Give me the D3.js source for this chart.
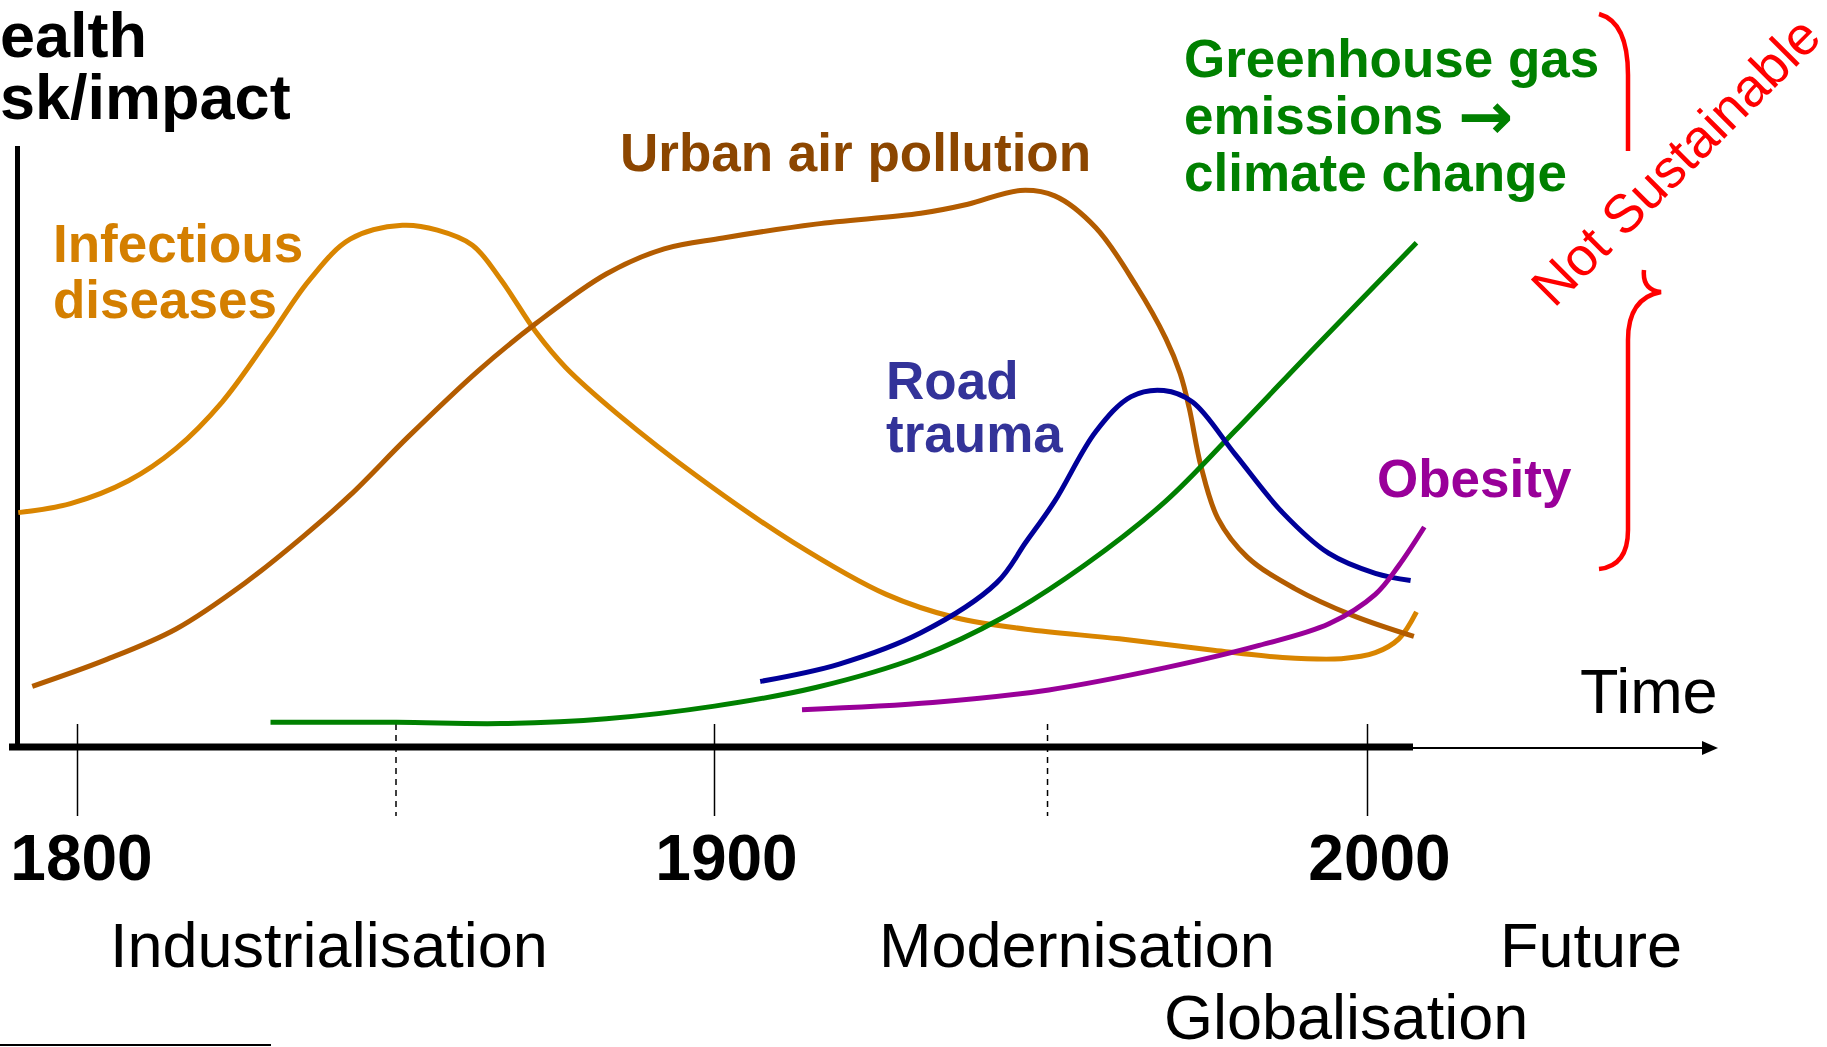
<!DOCTYPE html>
<html>
<head>
<meta charset="utf-8">
<script src="https://cdn.jsdelivr.net/npm/d3@7"></script>
<style>
html,body{margin:0;padding:0;background:#fff;overflow:hidden;}
svg{display:block;}
text{font-family:"Liberation Sans",Arial,Helvetica,sans-serif;}
</style>
</head>
<body>
<svg id="chart" width="1827" height="1047"></svg>
<script>
// ---- data (year, relative health risk/impact 0-100) ----
const infectiousYears = [1790.7,1798.9,1808,1815.4,1822.7,1830,1836.4,1842.8,1851,1856.5,1862,1866.5,1872,1876.6,1884.8,1897.6,1912,1926.3,1937,1947.7,1962,1976.4,1987,1996,2001.2,2004.8,2007.5];
const infectiousValues = [39,40.5,44.3,49.6,57.4,68,77.7,84.5,86.8,86,83.5,77.7,69,63.2,55.4,44.8,34.1,25.4,21.5,19.6,18,16.1,14.9,14.7,15.7,18,22.5];

const urbanYears = [1792.9,1804.4,1815.4,1826.3,1835.5,1842.8,1851.9,1862.9,1872,1883,1892.1,1901.3,1915.5,1931.6,1938.8,1946.8,1952.1,1958.4,1964.6,1969.1,1971.3,1972.7,1974.5,1977.1,1981.6,1988.8,1997.7,2007.1];
const urbanValues = [10.1,14.5,19.6,27.3,35.1,41.9,51.6,62.6,70.5,78.7,82.9,84.7,87,88.8,90.3,92.6,91.7,86.4,76.7,68,62.2,56.4,46.7,38,31.6,26.4,21.9,18.4];

const ghgYears = [1830.3,1850.1,1866.5,1883,1900,1915.5,1931.6,1944.1,1956.6,1969.1,1979.8,1992.3,2007.5];
const ghgValues = [4.1,4.1,3.9,4.7,6.8,9.9,15.1,21.5,30.2,40.9,52.7,66.9,83.9];

const roadYears = [1907,1919.1,1931.6,1943.2,1947.7,1952.1,1958.4,1963.8,1968.8,1973.2,1979.8,1987,1994.1,2001.2,2006.6];
const roadValues = [10.9,13.8,19,27.3,34.1,40.9,52.5,58.3,59.3,57.4,48.6,39,32.2,28.9,27.7];

const obesityYears = [1913.4,1933.4,1951.2,1969.1,1983.4,1994.1,2001.2,2004.8,2008.7];
const obesityValues = [6.2,7.4,9.5,13.2,16.9,20.5,25.4,30.2,36.6];

const tickYears = [1800,1900,2000];
const tickLabels = ["1800","1900","2000"];
const dashedYears = [1850,1951];

const seriesNames = ["Infectious diseases","Urban air pollution","Greenhouse gas emissions → climate change","Road trauma","Obesity"];

// ---- layout ----
const svg = d3.select("#chart");
const x = d3.scaleLinear().domain([1800,1900,2000]).range([77.5,714.5,1367.5]);
const y = d3.scaleLinear().domain([0,100]).range([747,146]);

const zip = (xs, vs) => xs.map((d,i)=>({year:d, value:vs[i]}));
const series = [
  {name:seriesNames[0], data:zip(infectiousYears,infectiousValues), color:"#D98500"},
  {name:seriesNames[1], data:zip(urbanYears,urbanValues), color:"#B35C00"},
  {name:seriesNames[2], data:zip(ghgYears,ghgValues), color:"#008000"},
  {name:seriesNames[3], data:zip(roadYears,roadValues), color:"#000099"},
  {name:seriesNames[4], data:zip(obesityYears,obesityValues), color:"#990099"}
];

// axes
svg.append("line").attr("x1",17.5).attr("x2",17.5).attr("y1",146).attr("y2",750)
  .attr("stroke","#000").attr("stroke-width",5);
svg.append("line").attr("x1",9).attr("x2",1413).attr("y1",747).attr("y2",747)
  .attr("stroke","#000").attr("stroke-width",7);
svg.append("line").attr("x1",1410).attr("x2",1706).attr("y1",748).attr("y2",748)
  .attr("stroke","#000").attr("stroke-width",2);
svg.append("path").attr("d","M1718,748 L1702,741 L1702,755 Z").attr("fill","#000");

// ticks
svg.selectAll("line.tick").data(tickYears).enter().append("line").attr("class","tick")
  .attr("x1",d=>x(d)).attr("x2",d=>x(d)).attr("y1",724).attr("y2",816)
  .attr("stroke","#000").attr("stroke-width",1.5);
svg.selectAll("line.dtick").data(dashedYears).enter().append("line").attr("class","dtick")
  .attr("x1",d=>x(d)).attr("x2",d=>x(d)).attr("y1",724).attr("y2",816)
  .attr("stroke","#000").attr("stroke-width",1.5).attr("stroke-dasharray","6,5");
svg.selectAll("text.tlabel").data(tickYears).enter().append("text").attr("class","tlabel")
  .attr("x",(d,i)=>x(d)+(i===0?4:12)).attr("y",880).attr("text-anchor","middle")
  .attr("font-size",64).attr("font-weight","bold").text((d,i)=>tickLabels[i]);

// curves
const line = d3.line().x(d=>x(d.year)).y(d=>y(d.value)).curve(d3.curveCatmullRom.alpha(0.5));
svg.selectAll("path.series").data(series).enter().append("path").attr("class","series")
  .attr("d",d=>line(d.data)).attr("fill","none").attr("stroke",d=>d.color)
  .attr("stroke-width",5).attr("stroke-linecap","butt");

// labels (one text element per line)
function label(lines, xx, yy, dy, color, size, weight){
  lines.forEach((s,i)=>svg.append("text").attr("x",xx).attr("y",yy+i*dy).attr("fill",color)
    .attr("font-size",size).attr("font-weight",weight||"bold").text(s));
}
label(["ealth","sk/impact"],0,57,62,"#000",63);
label(["Infectious","diseases"],53,262,56,"#D47F00",53);
label(["Urban air pollution"],620,171,0,"#8C4600",53);
label(["Greenhouse gas"],1184,77,0,"#008000",53);
const em = svg.append("text").attr("x",1184).attr("y",134).attr("fill","#008000")
  .attr("font-size",53).attr("font-weight","bold");
em.append("tspan").text("emissions ");
em.append("tspan").attr("font-family","'DejaVu Sans',sans-serif").attr("font-size",66)
  .attr("dy",5).text("\u2192");
label(["climate change"],1184,191,0,"#008000",53);
label(["Road","trauma"],886,399,53,"#333399",53);
label(["Obesity"],1377,497,0,"#990099",53);

// time/era labels
label(["Time"],1580,713,0,"#000",63,"normal");
label(["Industrialisation"],110,967,0,"#000",63,"normal");
label(["Modernisation"],879,967,0,"#000",63,"normal");
label(["Future"],1500,967,0,"#000",63,"normal");
label(["Globalisation"],1164,1039,0,"#000",63,"normal");

// Not sustainable + brace
svg.append("text").attr("transform","translate(1554,309) rotate(-45)")
  .attr("fill","#FF0000").attr("font-size",54).text("Not Sustainable");
svg.append("path").attr("d","M1599,14 Q1628,22 1628,75 L1628,151")
  .attr("fill","none").attr("stroke","#FF0000").attr("stroke-width",4.5);
svg.append("path").attr("d","M1644,270 Q1642,290 1661,292 Q1628,298 1628,340 L1628,530 Q1628,566 1599,569")
  .attr("fill","none").attr("stroke","#FF0000").attr("stroke-width",4.5);

// footnote rule
svg.append("line").attr("x1",0).attr("x2",271).attr("y1",1045).attr("y2",1045)
  .attr("stroke","#000").attr("stroke-width",2);
</script>
</body>
</html>
